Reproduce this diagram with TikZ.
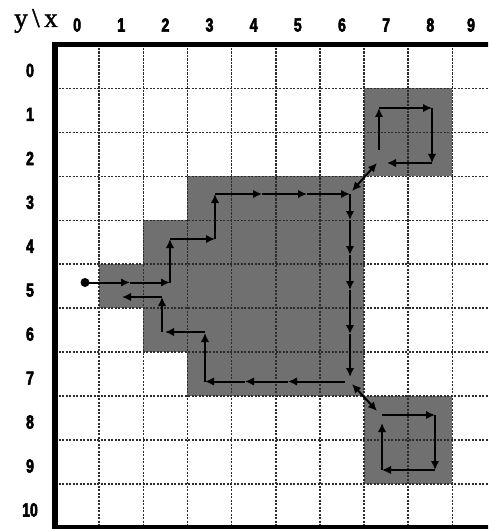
\documentclass[tikz,border=0pt]{standalone}
\usepackage{fontspec}
\usetikzlibrary{arrows.meta}
\newfontfamily\digf[FakeStretch=0.74,FakeBold=3]{Liberation Sans}
\newfontfamily\serf[FakeBold=1.5]{Liberation Serif}
\definecolor{shade}{RGB}{112,112,112}
\definecolor{gridc}{RGB}{45,45,45}
\tikzset{
  gridline/.style={draw=gridc,line width=1.6pt,dash pattern=on 2.2pt off 1.3pt},
  border/.style={draw=black,line width=5.5pt},
  region/.style={fill=shade,draw=none},
  lab/.style={inner sep=0pt,font=\digf\bfseries\fontsize{19}{19}\selectfont},
  pth/.style={draw=black,line width=2pt,-{Latex[length=9pt,width=8.5pt]}},
  dbl/.style={draw=black,line width=2pt,{Latex[length=9pt,width=8.5pt]}-{Latex[length=9pt,width=8.5pt]}},
}
\begin{document}
\begin{tikzpicture}[x=1pt,y=-1pt]
\useasboundingbox (0,0) rectangle (488,529);
\clip (0,0) rectangle (488,529);
% shaded regions
\fill[region] (364.05,88.45) rectangle (452.35,176.35);
\fill[region] (364.05,396.1) rectangle (452.35,484);
\fill[region] (187.45,176.35) rectangle (364.05,396.1);
\fill[region] (143.3,220.3) rectangle (187.45,352.15);
\fill[region] (99.15,264.25) rectangle (143.3,308.2);
% grid
\foreach \gx in {99.15,143.3,187.45,231.6,275.75,319.9,364.05,408.2,452.35}
  \draw[gridline] (\gx,44.5) -- (\gx,529);
\foreach \gy in {88.45,132.4,176.35,220.3,264.25,308.2,352.15,396.1,440.05,484}
  \draw[gridline] (55,\gy) -- (490,\gy);
% border
\draw[border] (55,529) -- (55,44.5) -- (492,44.5);
\draw[border] (55,528) -- (492,528);
% labels
\node[inner sep=0pt,font=\serf\fontsize{27}{27}\selectfont] (yx) at (36,21) {y\,\textbackslash\,x};
\foreach \i/\cx in {0/77.1,1/121.2,2/165.4,3/209.5,4/253.7,5/297.8,6/342,7/386.1,8/430.3,9/471}
  \node[lab] (c\i) at (\cx,25) {\i};
\foreach \i in {0,...,10}
  \node[lab] (r\i) at (30,{44.5+43.95*(\i+0.5)+4}) {\i};
% path coordinates
\coordinate (s) at (85,282.5);
\coordinate (a1) at (130,282.5);
\coordinate (a2) at (170,282.5);
\coordinate (a3) at (170,239);
\coordinate (a4) at (215,239);
\coordinate (a5) at (215,194);
\coordinate (a6) at (262,194);
\coordinate (a7) at (307,194);
\coordinate (a8) at (350,194);
\coordinate (d1a) at (352,191);
\coordinate (d1b) at (377,163);
\coordinate (t1) at (379,150);
\coordinate (t2) at (379,108);
\coordinate (t3) at (432,108);
\coordinate (t4) at (432,163);
\coordinate (t5) at (387,163);
\coordinate (v1) at (350,220);
\coordinate (v2) at (350,255);
\coordinate (v3) at (350,290);
\coordinate (v4) at (350,334);
\coordinate (v5) at (350,377);
\coordinate (d2a) at (352,384);
\coordinate (d2b) at (377,411);
\coordinate (b1) at (382,415);
\coordinate (b2) at (435,415);
\coordinate (b3) at (435,470);
\coordinate (b4) at (382,470);
\coordinate (b5) at (382,423);
\coordinate (h0) at (345,381.5);
\coordinate (h1) at (288,381.5);
\coordinate (h2) at (245,381.5);
\coordinate (h3) at (205,381.5);
\coordinate (u1) at (205,333);
\coordinate (u2) at (205,332);
\coordinate (u3) at (165,332);
\coordinate (u4) at (162,332);
\coordinate (u5) at (162,297);
\coordinate (u6) at (122,297);
% path
\fill (s) circle (4.5pt);
\draw[pth] (s) -- (a1);
\draw[pth] (a1) -- (a2);
\draw[pth] (a2) -- (a3);
\draw[pth] (a3) -- (a4);
\draw[pth] (a4) -- (a5);
\draw[pth] (a5) -- (a6);
\draw[pth] (a6) -- (a7);
\draw[pth] (a7) -- (a8);
\draw[dbl] (d1a) -- (d1b);
\draw[pth] (t1) -- (t2);
\draw[pth] (t2) -- (t3);
\draw[pth] (t3) -- (t4);
\draw[pth] (t4) -- (t5);
\draw[pth] (a8) -- (v1);
\draw[pth] (v1) -- (v2);
\draw[pth] (v2) -- (v3);
\draw[pth] (v3) -- (v4);
\draw[pth] (v4) -- (v5);
\draw[dbl] (d2a) -- (d2b);
\draw[pth] (b1) -- (b2);
\draw[pth] (b2) -- (b3);
\draw[pth] (b3) -- (b4);
\draw[pth] (b4) -- (b5);
\draw[pth] (h0) -- (h1);
\draw[pth] (h1) -- (h2);
\draw[pth] (h2) -- (h3);
\draw[pth] (h3) -- (u1);
\draw[pth] (u2) -- (u3);
\draw[pth] (u4) -- (u5);
\draw[pth] (u5) -- (u6);
\end{tikzpicture}
\end{document}
